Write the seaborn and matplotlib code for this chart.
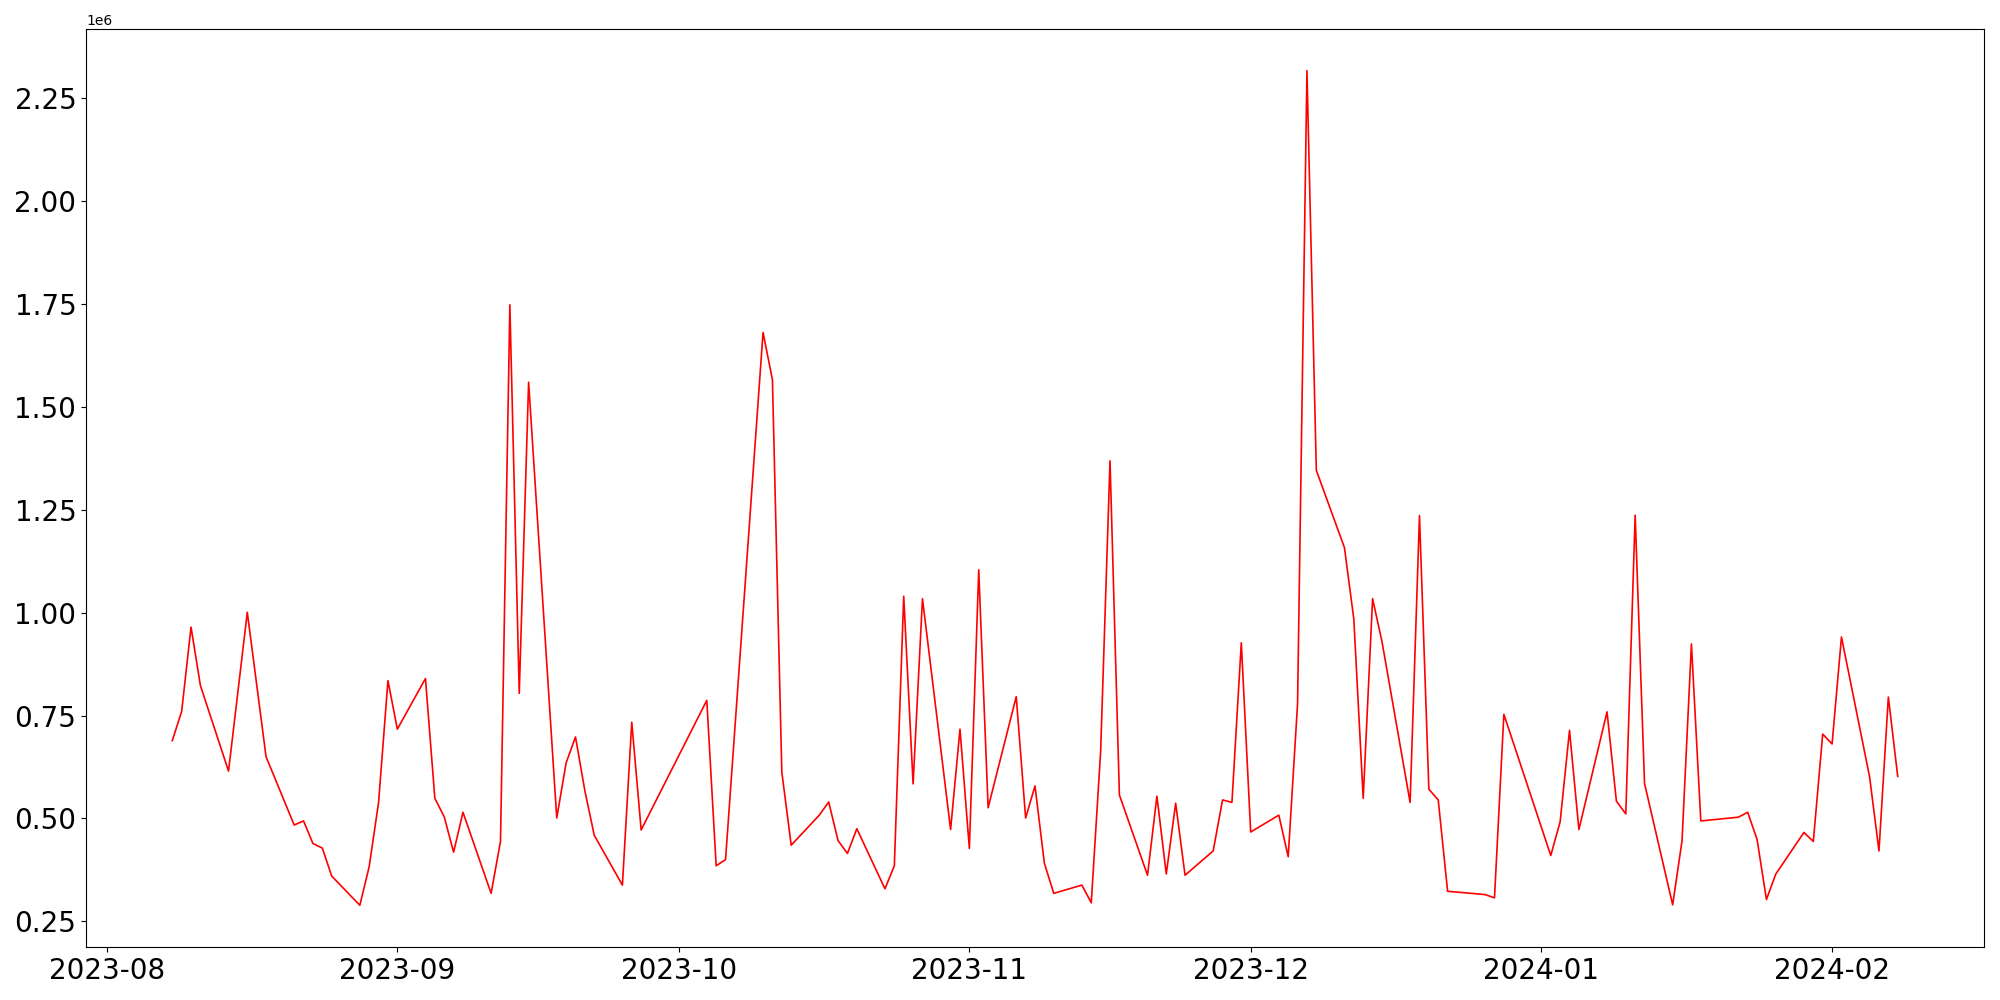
import pandas as pd
import matplotlib
matplotlib.use("Agg")
import matplotlib.pyplot as plt
import seaborn as sns

# daily values (in units of 1e6)
dates = [
    "2023-08-08", "2023-08-09", "2023-08-10", "2023-08-11", "2023-08-14", "2023-08-16",
    "2023-08-18", "2023-08-21", "2023-08-22", "2023-08-23", "2023-08-24", "2023-08-25",
    "2023-08-28", "2023-08-29", "2023-08-30", "2023-08-31", "2023-09-01", "2023-09-04",
    "2023-09-05", "2023-09-06", "2023-09-07", "2023-09-08", "2023-09-11", "2023-09-12",
    "2023-09-13", "2023-09-14", "2023-09-15", "2023-09-18", "2023-09-19", "2023-09-20",
    "2023-09-21", "2023-09-22", "2023-09-25", "2023-09-26", "2023-09-27", "2023-10-04",
    "2023-10-05", "2023-10-06", "2023-10-10", "2023-10-11", "2023-10-12", "2023-10-13",
    "2023-10-16", "2023-10-17", "2023-10-18", "2023-10-19", "2023-10-20", "2023-10-23",
    "2023-10-24", "2023-10-25", "2023-10-26", "2023-10-27", "2023-10-30", "2023-10-31",
    "2023-11-01", "2023-11-02", "2023-11-03", "2023-11-06", "2023-11-07", "2023-11-08",
    "2023-11-09", "2023-11-10", "2023-11-13", "2023-11-14", "2023-11-15", "2023-11-16",
    "2023-11-17", "2023-11-20", "2023-11-21", "2023-11-22", "2023-11-23", "2023-11-24",
    "2023-11-27", "2023-11-28", "2023-11-29", "2023-11-30", "2023-12-01", "2023-12-04",
    "2023-12-05", "2023-12-06", "2023-12-07", "2023-12-08", "2023-12-11", "2023-12-12",
    "2023-12-13", "2023-12-14", "2023-12-15", "2023-12-18", "2023-12-19", "2023-12-20",
    "2023-12-21", "2023-12-22", "2023-12-26", "2023-12-27", "2023-12-28", "2024-01-02",
    "2024-01-03", "2024-01-04", "2024-01-05", "2024-01-08", "2024-01-09", "2024-01-10",
    "2024-01-11", "2024-01-12", "2024-01-15", "2024-01-16", "2024-01-17", "2024-01-18",
    "2024-01-22", "2024-01-23", "2024-01-24", "2024-01-25", "2024-01-26", "2024-01-29",
    "2024-01-30", "2024-01-31", "2024-02-01", "2024-02-02", "2024-02-05", "2024-02-06",
    "2024-02-07", "2024-02-08",
]
values = [
    0.689, 0.760, 0.965, 0.823, 0.615, 1.001,
    0.650, 0.484, 0.494, 0.439, 0.428, 0.360,
    0.289, 0.383, 0.539, 0.835, 0.717, 0.840,
    0.549, 0.504, 0.418, 0.515, 0.318, 0.444,
    1.748, 0.804, 1.560, 0.501, 0.635, 0.698,
    0.567, 0.459, 0.338, 0.734, 0.472, 0.787,
    0.385, 0.400, 1.681, 1.566, 0.613, 0.435,
    0.508, 0.540, 0.446, 0.415, 0.475, 0.329,
    0.385, 1.040, 0.584, 1.034, 0.473, 0.717,
    0.427, 1.104, 0.526, 0.796, 0.501, 0.579,
    0.391, 0.318, 0.338, 0.295, 0.663, 1.369,
    0.557, 0.362, 0.554, 0.365, 0.537, 0.362,
    0.421, 0.545, 0.539, 0.927, 0.467, 0.508,
    0.407, 0.779, 2.317, 1.346, 1.158, 0.984,
    0.549, 1.034, 0.930, 0.539, 1.236, 0.571,
    0.545, 0.323, 0.315, 0.307, 0.753, 0.410,
    0.492, 0.714, 0.473, 0.759, 0.542, 0.511,
    1.237, 0.585, 0.290, 0.446, 0.924, 0.494,
    0.503, 0.515, 0.449, 0.303, 0.365, 0.466,
    0.444, 0.705, 0.681, 0.941, 0.601, 0.421,
    0.795, 0.602,
]

df = pd.DataFrame({"date": pd.to_datetime(dates), "value": [v * 1e6 for v in values]})

fig, ax = plt.subplots(figsize=(20, 10), dpi=100)
sns.lineplot(data=df, x="date", y="value", color="red", linewidth=1.2, ax=ax)
ax.set_xlabel("")
ax.set_ylabel("")
ax.tick_params(axis="both", labelsize=20)
plt.subplots_adjust(left=0.043, right=0.992, top=0.971, bottom=0.053)
plt.savefig("out.png")
